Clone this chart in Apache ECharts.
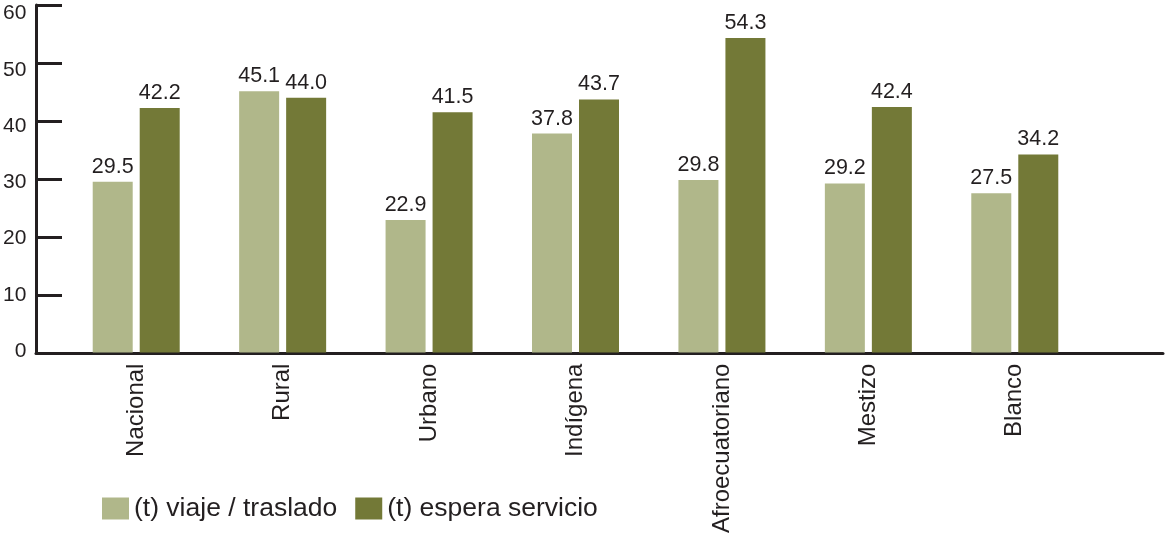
<!DOCTYPE html>
<html>
<head>
<meta charset="utf-8">
<script src="https://cdn.jsdelivr.net/npm/echarts@6/dist/echarts.min.js"></script>
<style>
  html, body { margin: 0; padding: 0; background: #fff; }
  #chart { width: 1166px; height: 536px; }
</style>
</head>
<body>
<div id="chart"></div>
<script>
// datos
const categorias = ['Nacional', 'Rural', 'Urbano', 'Indígena', 'Afroecuatoriano', 'Mestizo', 'Blanco']
const viajeTraslado = [29.5, 45.1, 22.9, 37.8, 29.8, 29.2, 27.5]
const esperaServicio = [42.2, 44.0, 41.5, 43.7, 54.3, 42.4, 34.2]
const yTicks = [0, 10, 20, 30, 40, 50, 60]

const ink = '#231f20'
const font = "'Liberation Sans', Arial, sans-serif"

const myChart = echarts.init(document.getElementById('chart'), null, { renderer: 'canvas' })

const etiqueta = {
  show: true,
  position: 'top',
  distance: 4,
  color: ink,
  fontSize: 21.5,
  fontFamily: font,
  formatter: p => p.value.toFixed(1),
}

const yMin = yTicks[0]
const yMax = yTicks[yTicks.length - 1]

myChart.setOption({
  animation: false,
  textStyle: { fontFamily: font },
  legend: {
    left: 102,
    top: 495,
    padding: 0,
    itemWidth: 27,
    itemHeight: 22,
    itemGap: 18,
    icon: 'rect',
    textStyle: { color: ink, fontSize: 26.5, fontFamily: font },
    data: ['(t) viaje / traslado', '(t) espera servicio'],
  },
  grid: [
    // marco de ejes
    { left: 36, right: 3, top: 5, bottom: 183 },
    // barras
    { left: 63, width: 1025, top: 5, bottom: 183 },
    // etiquetas del eje y (algo más juntas que las marcas en el original)
    { left: 36, width: 10, top: 13.5, bottom: 185 },
  ],
  xAxis: [
    {
      gridIndex: 0,
      type: 'value',
      min: 0,
      max: 1,
      axisLine: { show: true, lineStyle: { color: ink, width: 3 } },
      axisTick: { show: false },
      axisLabel: { show: false },
      splitLine: { show: false },
    },
    {
      gridIndex: 1,
      type: 'category',
      data: categorias,
      axisLine: { show: false },
      axisTick: { show: false },
      axisLabel: {
        rotate: 90,
        margin: 11,
        color: ink,
        fontSize: 24,
        fontFamily: font,
        interval: 0,
      },
    },
    {
      gridIndex: 2,
      type: 'value',
      show: false,
    },
  ],
  yAxis: [
    {
      gridIndex: 0,
      type: 'value',
      min: yMin,
      max: yMax,
      interval: 10,
      axisLine: { show: true, lineStyle: { color: ink, width: 3 } },
      axisTick: { show: true, inside: true, length: 26, lineStyle: { color: ink, width: 3 } },
      axisLabel: { show: false },
      splitLine: { show: false },
    },
    {
      gridIndex: 1,
      type: 'value',
      min: yMin,
      max: yMax,
      show: false,
    },
    {
      gridIndex: 2,
      type: 'value',
      min: yMin,
      max: yMax,
      interval: 10,
      axisLine: { show: false },
      axisTick: { show: false },
      axisLabel: { margin: 11, color: ink, fontSize: 21, fontFamily: font },
      splitLine: { show: false },
    },
  ],
  series: [
    {
      name: '(t) viaje / traslado',
      type: 'bar',
      xAxisIndex: 1,
      yAxisIndex: 1,
      barWidth: 40,
      barGap: '17.5%',
      itemStyle: { color: '#b0b78a' },
      label: etiqueta,
      data: viajeTraslado,
    },
    {
      name: '(t) espera servicio',
      type: 'bar',
      xAxisIndex: 1,
      yAxisIndex: 1,
      barWidth: 40,
      barGap: '17.5%',
      itemStyle: { color: '#737937' },
      label: etiqueta,
      data: esperaServicio,
    },
  ],
})
</script>
</body>
</html>
